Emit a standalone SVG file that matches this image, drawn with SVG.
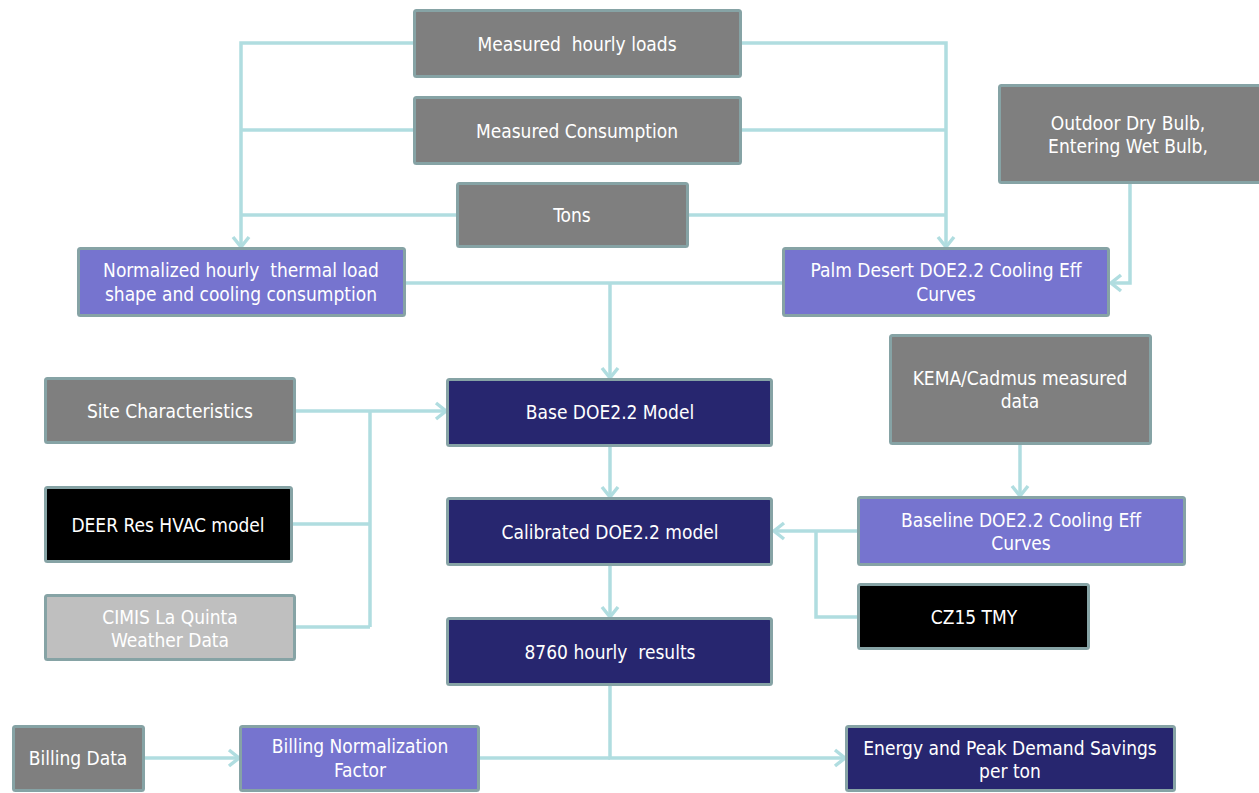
<svg xmlns="http://www.w3.org/2000/svg" width="1259" height="793" viewBox="0 0 1259 793">
<defs>
<style>
.box{stroke:#86a3a5;stroke-width:3}
.g{fill:#7f7f7f}.p{fill:#7674cf}.n{fill:#27266f}.k{fill:#000}.l{fill:#bfbfbf}
text{font-family:"DejaVu Sans Condensed","DejaVu Sans",sans-serif;font-size:19px;fill:#fff;text-anchor:middle;dominant-baseline:central;white-space:pre}
.c{fill:none;stroke:#b0dde0;stroke-width:3.5}
</style>
<marker id="a" markerUnits="userSpaceOnUse" markerWidth="20" markerHeight="20" viewBox="0 0 20 20" refX="17" refY="10" orient="auto">
<path d="M7,2 L17,10 L7,18" fill="none" stroke="#b0dde0" stroke-width="3.5"/>
</marker>
</defs>
<rect width="1259" height="793" fill="#fff"/>
<g id="connectors">
<path class="c" d="M413,43 H241 V247" marker-end="url(#a)"/>
<path class="c" d="M413,130 H241"/>
<path class="c" d="M456,215 H241"/>
<path class="c" d="M742,43 H946 V247" marker-end="url(#a)"/>
<path class="c" d="M742,130 H946"/>
<path class="c" d="M689,215 H946"/>
<path class="c" d="M1130,184 V283 H1111" marker-end="url(#a)"/>
<path class="c" d="M406,283 H782"/>
<path class="c" d="M610,283 V378" marker-end="url(#a)"/>
<path class="c" d="M296,411 H446" marker-end="url(#a)"/>
<path class="c" d="M293,524 H370 M296,627 H370 M370,411 V627"/>
<path class="c" d="M610,447 V497" marker-end="url(#a)"/>
<path class="c" d="M610,566 V617" marker-end="url(#a)"/>
<path class="c" d="M1020,445 V496" marker-end="url(#a)"/>
<path class="c" d="M857,531 H774" marker-end="url(#a)"/>
<path class="c" d="M816,531 V617 H857"/>
<path class="c" d="M610,686 V758 H845" marker-end="url(#a)"/>
<path class="c" d="M145,758 H239" marker-end="url(#a)"/>
<path class="c" d="M480,758 H610"/>
</g>
<g id="n1"><rect class="box g" x="414.5" y="10.5" width="326" height="66" rx="2"/><text x="577" y="44">Measured  hourly loads</text></g>
<g id="n2"><rect class="box g" x="414.5" y="97.5" width="326" height="66" rx="2"/><text x="577" y="131">Measured Consumption</text></g>
<g id="n3"><rect class="box g" x="457.5" y="183.5" width="230" height="63" rx="2"/><text x="572" y="215">Tons</text></g>
<g id="n4"><rect class="box p" x="78.5" y="248.5" width="326" height="67" rx="2"/><text x="241" y="270">Normalized hourly  thermal load</text><text x="241" y="294">shape and cooling consumption</text></g>
<g id="n5"><rect class="box p" x="783.5" y="248.5" width="325" height="67" rx="2"/><text x="946" y="270">Palm Desert DOE2.2 Cooling Eff</text><text x="946" y="294">Curves</text></g>
<g id="n6"><rect class="box g" x="999.5" y="85.5" width="261" height="97" rx="2"/><text x="1128" y="123">Outdoor Dry Bulb,</text><text x="1128" y="146">Entering Wet Bulb,</text></g>
<g id="n7"><rect class="box g" x="45.5" y="378.5" width="249" height="64" rx="2"/><text x="170" y="411">Site Characteristics</text></g>
<g id="n8"><rect class="box k" x="45.5" y="487.5" width="246" height="74" rx="2"/><text x="168" y="525">DEER Res HVAC model</text></g>
<g id="n9"><rect class="box l" x="45.5" y="595.5" width="249" height="64" rx="2"/><text x="170" y="617">CIMIS La Quinta</text><text x="170" y="640">Weather Data</text></g>
<g id="n10"><rect class="box n" x="447.5" y="379.5" width="324" height="66" rx="2"/><text x="610" y="412">Base DOE2.2 Model</text></g>
<g id="n11"><rect class="box n" x="447.5" y="498.5" width="324" height="66" rx="2"/><text x="610" y="532">Calibrated DOE2.2 model</text></g>
<g id="n12"><rect class="box n" x="447.5" y="618.5" width="324" height="66" rx="2"/><text x="610" y="652">8760 hourly  results</text></g>
<g id="n13"><rect class="box g" x="890.5" y="335.5" width="260" height="108" rx="2"/><text x="1020" y="378">KEMA/Cadmus measured</text><text x="1020" y="401">data</text></g>
<g id="n14"><rect class="box p" x="858.5" y="497.5" width="326" height="67" rx="2"/><text x="1021" y="520">Baseline DOE2.2 Cooling Eff</text><text x="1021" y="543">Curves</text></g>
<g id="n15"><rect class="box k" x="858.5" y="584.5" width="230" height="64" rx="2"/><text x="974" y="617">CZ15 TMY</text></g>
<g id="n16"><rect class="box g" x="13.5" y="726.5" width="130" height="64" rx="2"/><text x="78" y="758">Billing Data</text></g>
<g id="n17"><rect class="box p" x="240.5" y="726.5" width="238" height="64" rx="2"/><text x="360" y="746">Billing Normalization</text><text x="360" y="770">Factor</text></g>
<g id="n18"><rect class="box n" x="846.5" y="726.5" width="328" height="64" rx="2"/><text x="1010" y="748">Energy and Peak Demand Savings</text><text x="1010" y="771">per ton</text></g>
</svg>
